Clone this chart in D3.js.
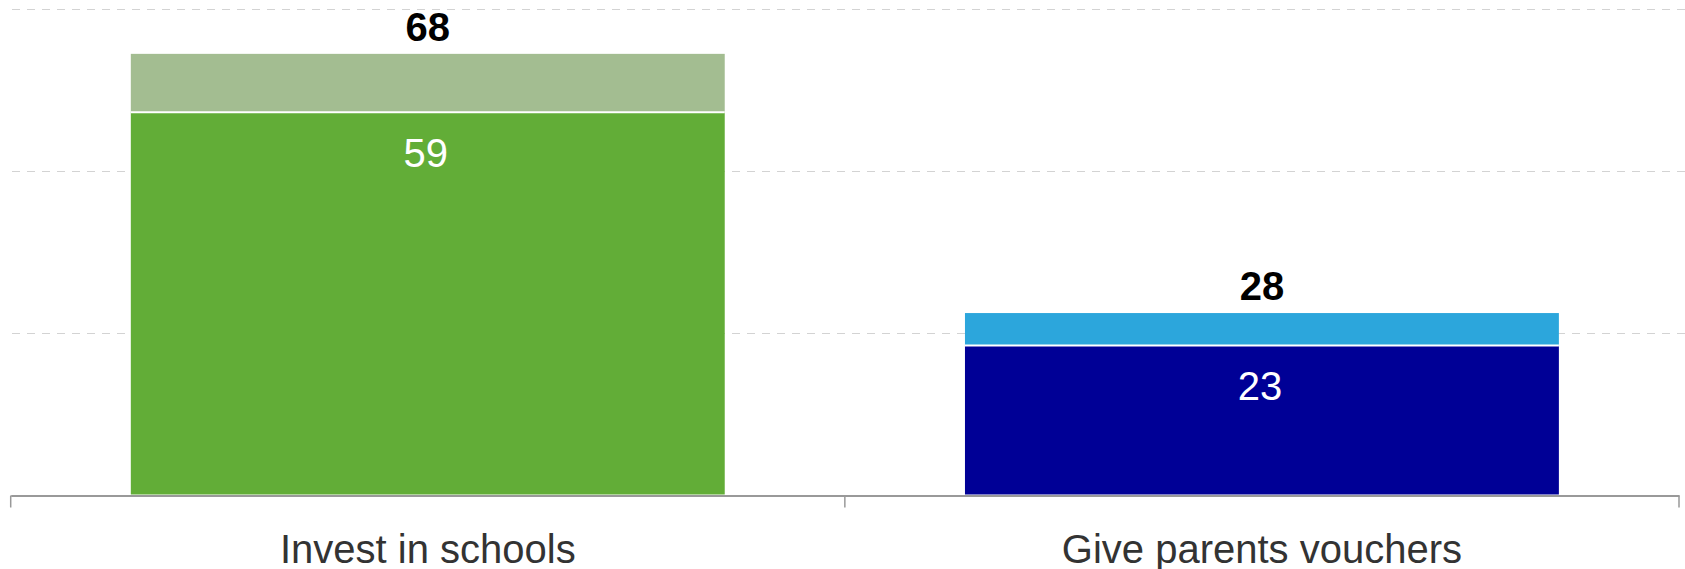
<!DOCTYPE html>
<html>
<head>
<meta charset="utf-8">
<script src="https://cdn.jsdelivr.net/npm/d3@7"></script>
<style>
html,body{margin:0;padding:0;background:#fff;}
svg{display:block;font-family:"Liberation Sans",Arial,sans-serif;}
</style>
</head>
<body>
<svg id="chart" width="1685" height="569"></svg>
<script>
const categories = ["Invest in schools", "Give parents vouchers"];
const baseValues = [59, 23];
const totalValues = [68, 28];
const baseColors = ["#62ad37", "#000096"];
const topColors = ["#a3bd91", "#2ca6dc"];
const gridTicks = [25, 50, 75];

const svg = d3.select("#chart");
const x = d3.scaleBand().domain(categories).range([10.7, 1679]).padding(0);
const y = d3.scaleLinear().domain([0, 75]).range([494.5, 8.5]);
const barW = x.bandwidth() * 0.712;

// gridlines
svg.append("g").selectAll("line").data(gridTicks).join("line")
  .attr("x1", 12).attr("x2", 1685)
  .attr("y1", d => Math.round(y(d)) + 0.5).attr("y2", d => Math.round(y(d)) + 0.5)
  .attr("stroke", "#d3d3d3").attr("stroke-width", 1)
  .attr("stroke-dasharray", "8,7");

const g = svg.append("g");
categories.forEach((c, i) => {
  const cx = x(c) + x.bandwidth() / 2;
  const x0 = cx - barW / 2;
  g.append("rect").attr("x", x0).attr("width", barW)
    .attr("y", y(totalValues[i])).attr("height", y(baseValues[i]) - y(totalValues[i]))
    .attr("fill", topColors[i]);
  g.append("rect").attr("x", x0).attr("width", barW)
    .attr("y", y(baseValues[i])).attr("height", y(0) - y(baseValues[i]))
    .attr("fill", baseColors[i]);
  g.append("line").attr("x1", x0).attr("x2", x0 + barW)
    .attr("y1", y(baseValues[i])).attr("y2", y(baseValues[i]))
    .attr("stroke", "#fff").attr("stroke-width", 2);
  g.append("text").attr("x", cx).attr("y", y(totalValues[i]) - 13)
    .attr("text-anchor", "middle").attr("font-size", 40).attr("font-weight", "bold")
    .attr("fill", "#000").text(totalValues[i]);
  g.append("text").attr("x", cx - 2).attr("y", y(baseValues[i]) + 55)
    .attr("text-anchor", "middle").attr("font-size", 40)
    .attr("fill", "#fff").text(baseValues[i]);
});

// axis
const axis = d3.axisBottom(x).tickSize(0).tickFormat(d => d);
const ax = svg.append("g").attr("transform", `translate(0,${y(0)+1})`).call(axis);
ax.select(".domain").attr("stroke", "#999").attr("stroke-width", 2);
ax.selectAll(".tick text").attr("font-size", 40).attr("fill", "#333")
  .attr("font-family", "Liberation Sans, Arial, sans-serif").attr("dy", 0).attr("y", 67);
const bounds = [x.range()[0], x(categories[1]), x.range()[1]];
ax.append("g").selectAll("line").data(bounds).join("line")
  .attr("x1", d => d).attr("x2", d => d).attr("y1", 0).attr("y2", 12)
  .attr("stroke", "#999").attr("stroke-width", 1.5);
</script>
</body>
</html>
